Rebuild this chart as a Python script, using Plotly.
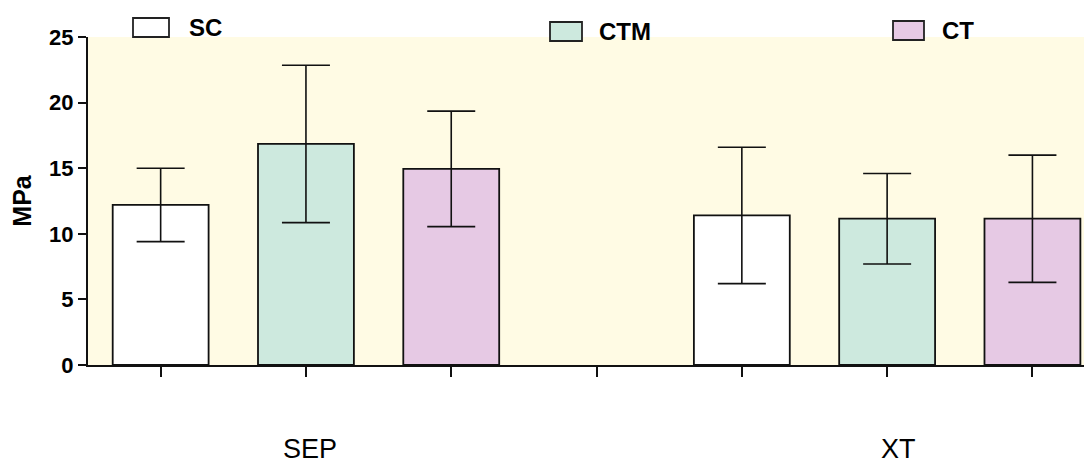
import plotly.graph_objects as go

# ---- data ----
groups = ["SEP", "XT"]
series = ["SC", "CTM", "CT"]
sc_mean = [12.2, 11.4]
sc_err = [2.8, 5.2]
ctm_mean = [16.85, 11.15]
ctm_err = [6.0, 3.45]
ct_mean = [14.95, 11.15]
ct_err = [4.4, 4.85]
y_ticks = [0, 5, 10, 15, 20, 25]

# ---- layout constants ----
# the page body has an 8px margin, so the figure is shifted by (8, 8)
OFF = 8
W, H = 1092 - OFF, 465 - OFF
ML, MR, MT, MB = 88 - OFF, 0, 37 - OFF, 100
PW, PH = W - ML - MR, H - MT - MB
FONT = "Liberation Sans, Arial, sans-serif"
colors = {"SC": "#FFFFFF", "CTM": "#CDE9DE", "CT": "#E6C9E4"}

means = {"SC": sc_mean, "CTM": ctm_mean, "CT": ct_mean}
errs = {"SC": sc_err, "CTM": ctm_err, "CT": ct_err}

fig = go.Figure()
n = len(series)
for i, s in enumerate(series):
    xs = [g * (n + 1) + i for g in range(len(groups))]
    fig.add_trace(go.Bar(
        x=xs, y=means[s], name=s, width=0.66,
        marker=dict(color=colors[s], line=dict(color="#111111", width=1.8)),
        error_y=dict(type="data", array=errs[s], visible=True,
                     color="#111111", thickness=1.6, width=24),
        showlegend=False,
    ))

# pixel positions given in page coordinates of the reference
def px_x(p):
    return (p - OFF - ML) / PW

def px_y(p):
    return (H - MB - (p - OFF)) / PH

shapes = []
annotations = []
legend_pos = {"SC": (133, 169, 18, 37, 189), "CTM": (550, 582, 22, 41, 599), "CT": (893, 924, 21, 40, 942)}
for s in series:
    x0, x1, y0, y1, tx = legend_pos[s]
    shapes.append(dict(type="rect", xref="paper", yref="paper",
                       x0=px_x(x0), x1=px_x(x1), y0=px_y(y1), y1=px_y(y0),
                       fillcolor=colors[s], line=dict(color="#222222", width=1.8)))
    annotations.append(dict(text=s, xref="paper", yref="paper", x=px_x(tx - 2), y=px_y((y0 + y1) / 2),
                            xanchor="left", yanchor="middle", showarrow=False,
                            font=dict(family=FONT, size=24, color="black", weight="bold")))

group_label_x = [1.03, 5.08]
for g, gx in zip(groups, group_label_x):
    annotations.append(dict(text=g, xref="x", yref="paper", x=gx, y=px_y(449),
                            xanchor="center", yanchor="middle", showarrow=False,
                            font=dict(family=FONT, size=27, color="black")))

fig.update_layout(
    width=W, height=H,
    margin=dict(l=ML, r=MR, t=MT, b=MB),
    paper_bgcolor="white",
    plot_bgcolor="#FFFBE4",
    barmode="overlay",
    showlegend=False,
    shapes=shapes,
    annotations=annotations,
    font=dict(family=FONT, color="black"),
)
fig.update_xaxes(
    range=[-0.5, 6.41], tickvals=list(range(7)), ticktext=[""] * 7,
    ticks="outside", ticklen=10, tickwidth=1.6, tickcolor="#111111",
    showline=True, linecolor="#111111", linewidth=2, showgrid=False, zeroline=False,
)
fig.update_yaxes(
    range=[0, 25], tickvals=y_ticks, ticks="outside", ticklen=8, tickwidth=1.6,
    tickcolor="#111111", showline=True, linecolor="#111111", linewidth=2,
    showgrid=False, zeroline=False,
    tickfont=dict(family=FONT, size=22, color="black", weight="bold"),
    title=dict(text="MPa", standoff=12, font=dict(family=FONT, size=25, color="black", weight="bold")),
)

fig.write_html("out.html")
